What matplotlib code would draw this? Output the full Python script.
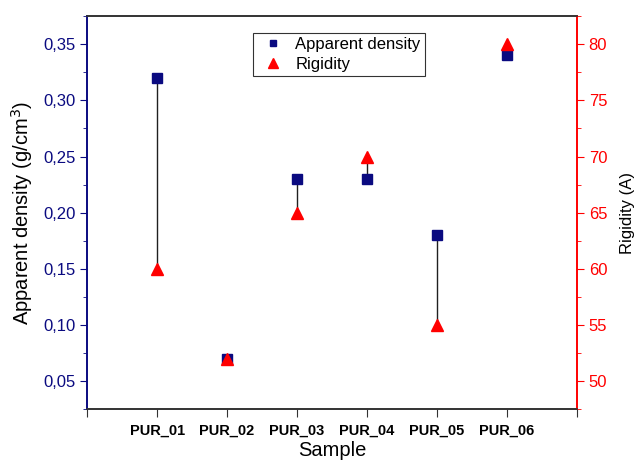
import numpy as np
import matplotlib
matplotlib.use('Agg')
import matplotlib.pyplot as plt
from matplotlib.ticker import FuncFormatter, MultipleLocator, AutoMinorLocator

plt.rcParams['font.family'] = ['Liberation Sans', 'DejaVu Sans']

# Dados das amostras
samples = ['PUR_01', 'PUR_02', 'PUR_03', 'PUR_04', 'PUR_05', 'PUR_06']
density = np.array([0.32, 0.07, 0.23, 0.23, 0.18, 0.34])
rigidity = np.array([60, 52, 65, 70, 55, 80])

navy = '#0a0a80'
red = '#ff0000'

fig = plt.figure(figsize=(6.36, 4.61), dpi=100)
ax1 = fig.add_axes([0.137, 0.112, 0.77, 0.853])
ax2 = ax1.twinx()

x = np.arange(1, len(samples) + 1)

ax1.set_xlim(0, 7)
ax1.set_ylim(0.025, 0.375)
ax2.set_ylim(47.5, 82.5)

# linhas verticais ligando densidade e rigidez (rigidez convertida para a escala da esquerda)
pts = ax2.transData.transform(np.column_stack([x, rigidity]))
rig_left = ax1.transData.inverted().transform(pts)[:, 1]
ax1.vlines(x, density, rig_left, colors='#202020', linewidth=1.0, zorder=1)

h1, = ax1.plot(x, density, 's', color=navy, markersize=6.5, linestyle='none',
               label='Apparent density', zorder=3)
h2, = ax2.plot(x, rigidity, '^', color=red, markersize=8.5, linestyle='none',
               label='Rigidity', zorder=3)

# eixo x
ax1.set_xticks(np.arange(0, 8))
ax1.set_xticklabels([''] + samples + [''], fontweight='bold', fontsize=10.5)
ax1.set_xlabel('Sample', fontsize=14.5, labelpad=3)

# eixo esquerdo
ax1.yaxis.set_major_locator(MultipleLocator(0.05))
ax1.yaxis.set_minor_locator(AutoMinorLocator(2))
ax1.yaxis.set_major_formatter(FuncFormatter(lambda v, p: f'{v:.2f}'.replace('.', ',')))
ax1.set_ylabel('Apparent density (g/cm$^3$)', fontsize=14.5, labelpad=6)
ax1.tick_params(axis='y', which='both', colors=navy, labelsize=12, direction='out')
ax1.tick_params(axis='y', which='major', length=5)
ax1.tick_params(axis='y', which='minor', length=3)
ax1.tick_params(axis='x', length=6, pad=4, colors='#333333', labelcolor='black')

# eixo direito
ax2.yaxis.set_major_locator(MultipleLocator(5))
ax2.yaxis.set_minor_locator(AutoMinorLocator(2))
ax2.set_ylabel('Rigidity (A)', fontsize=12, labelpad=9)
ax2.tick_params(axis='y', which='both', colors=red, labelsize=12, direction='out')
ax2.tick_params(axis='y', which='major', length=5)
ax2.tick_params(axis='y', which='minor', length=3)

for ax in (ax1, ax2):
    for s in ax.spines.values():
        s.set_linewidth(1.2)
    ax.spines['top'].set_color('#333333')
    ax.spines['bottom'].set_color('#333333')
    ax.spines['left'].set_color(navy)
    ax.spines['right'].set_color(red)

h1l, = ax1.plot([], [], 's', color=navy, markersize=5, linestyle='none')
h2l, = ax1.plot([], [], '^', color=red, markersize=7, linestyle='none')
leg = ax1.legend(handles=[h1l, h2l], labels=['Apparent density', 'Rigidity'],
                 loc='upper left', bbox_to_anchor=(0.338, 0.957), borderaxespad=0,
                 fontsize=12, frameon=True, fancybox=False, handletextpad=0.3,
                 borderpad=0.25, labelspacing=0.3, handlelength=2.0)
leg.get_frame().set_edgecolor('black')
leg.get_frame().set_linewidth(0.8)

fig.savefig('out.png', dpi=100)
